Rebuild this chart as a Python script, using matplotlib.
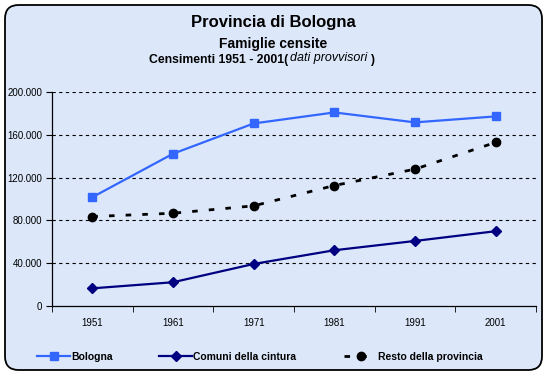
import matplotlib
matplotlib.use("Agg")
import matplotlib.pyplot as plt
from matplotlib.patches import FancyBboxPatch
from matplotlib.ticker import FuncFormatter

# dati
anni = ["1951", "1961", "1971", "1981", "1991", "2001"]
bologna = [101700, 142300, 170600, 180900, 171600, 177200]
cintura = [16500, 22200, 39300, 52100, 60800, 69900]
resto = [83600, 86700, 93600, 112600, 127900, 152900]

plt.rcParams['font.family'] = ['Liberation Sans', 'DejaVu Sans']

fig = plt.figure(figsize=(5.47, 3.75), dpi=100)
fig.patch.set_facecolor("white")

# sfondo con bordo arrotondato
bg = FancyBboxPatch((5 / 547, 5 / 375), 537 / 547, 365 / 375,
                    boxstyle="round,pad=0,rounding_size=0.025",
                    transform=fig.transFigure, facecolor="#dce8fa",
                    edgecolor="black", linewidth=1.3, mutation_aspect=547 / 375,
                    zorder=-10)
fig.patches.append(bg)

fig.text(0.5, 1 - 22 / 375, "Provincia di Bologna", ha="center", va="center",
         fontsize=12, fontweight="bold")
fig.text(0.5, 1 - 44 / 375, "Famiglie censite", ha="center", va="center",
         fontsize=10, fontweight="bold")
fig.text(288 / 547, 1 - 60 / 375, "Censimenti 1951 - 2001(", ha="right", va="center",
         fontsize=8.8, fontweight="bold")
fig.text(290 / 547, 1 - 58 / 375, "dati provvisori", ha="left", va="center",
         fontsize=9, style="italic")
fig.text(370 / 547, 1 - 60 / 375, ")", ha="left", va="center",
         fontsize=8.8, fontweight="bold")

ax = fig.add_axes([52 / 547, 69 / 375, 484 / 547, 214 / 375])
ax.set_facecolor("none")
x = list(range(len(anni)))

l1, = ax.plot(x, bologna, color="#3366ff", lw=1.6, marker="s", ms=6,
              label="Bologna")
l2, = ax.plot(x, cintura, color="#000080", lw=1.6, marker="D", ms=5,
              label="Comuni della cintura")
l3, = ax.plot(x, resto, color="black", lw=2, ls=(0, (2, 4)), marker="o", ms=6,
              label="Resto della provincia")

ax.set_xlim(-0.5, 5.5)
ax.set_ylim(0, 200000)
ax.set_yticks(range(0, 200001, 40000))
ax.yaxis.set_major_formatter(FuncFormatter(lambda v, p: f"{int(v):,}".replace(",", ".")))
ax.set_xticks(x)
ax.set_xticklabels(anni)
ax.set_xticks([i + 0.5 for i in range(-1, 6)], minor=True)
ax.tick_params(axis="x", which="major", length=0, pad=9, labelsize=7)
ax.tick_params(axis="x", which="minor", length=4, direction="out")
ax.tick_params(axis="y", length=4, direction="out", labelsize=7, pad=3)

for v in range(40000, 200001, 40000):
    ax.axhline(v, color="black", lw=0.8, ls=(0, (3, 3)), zorder=0)

for s in ["top", "right"]:
    ax.spines[s].set_visible(False)
ax.spines["left"].set_linewidth(0.9)
ax.spines["bottom"].set_linewidth(0.9)

# legenda: tre voci posizionate come nell'originale
for h, xpos in [(l1, 37), (l2, 159), (l3, 344)]:
    leg = fig.legend(handles=[h], loc="center left",
                     bbox_to_anchor=(xpos / 547, 1 - 357 / 375),
                     frameon=False, handlelength=3.2, handletextpad=0.1,
                     borderaxespad=0, borderpad=0,
                     prop={"weight": "bold", "size": 7.5})

fig.savefig("out.png", dpi=100)
